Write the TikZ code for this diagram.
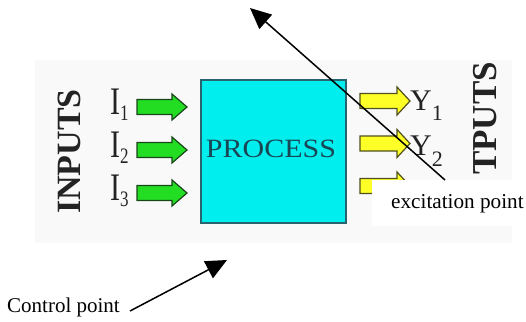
\documentclass[tikz,border=0pt]{standalone}
\usepackage{fontspec}
\setmainfont{LiberationSerif}[Extension=.ttf, UprightFont=*-Regular, BoldFont=*-Bold, ItalicFont=*-Italic, BoldItalicFont=*-BoldItalic]
\usetikzlibrary{arrows.meta}
\definecolor{cyanfill}{RGB}{0,238,238}
\definecolor{boxedge}{RGB}{40,100,110}
\definecolor{proctext}{RGB}{25,70,85}
\definecolor{greenfill}{RGB}{34,221,34}
\definecolor{greenedge}{RGB}{25,70,25}
\definecolor{yellowfill}{RGB}{255,255,40}
\definecolor{yellowedge}{RGB}{80,80,30}
\definecolor{photobg}{RGB}{249,249,249}
\definecolor{inktext}{RGB}{35,35,35}
\begin{document}
\begin{tikzpicture}[x=1pt,y=-1pt,
  greenarrow/.pic={\draw[line width=1.2pt,draw=greenedge,fill=greenfill]
     (0,-7.5)--(35,-7.5)--(35,-13)--(50,0)--(35,13)--(35,7.5)--(0,7.5)--cycle;},
  yellowarrow/.pic={\draw[line width=1.2pt,draw=yellowedge,fill=yellowfill]
     (0,-7.5)--(37,-7.5)--(37,-14)--(50,0)--(37,14)--(37,7.5)--(0,7.5)--cycle;},
  bigword/.style={font=\fontsize{34}{34}\selectfont\bfseries, text=inktext, rotate=90, inner sep=0},
  ilabel/.style={anchor=base west, inner sep=0, yscale=1.3, font=\fontsize{30}{30}\selectfont, text=inktext},
  ylabel/.style={anchor=base west, inner sep=0, font=\fontsize{30}{30}\selectfont, text=inktext},
  caption/.style={anchor=base west, inner sep=0, font=\fontsize{21}{21}\selectfont, text=black},
  pointer/.style={line width=1.5pt, -{Triangle[length=21pt,width=19pt]}}]
\useasboundingbox (0,0) rectangle (526,321);
\fill[white] (0,0) rectangle (526,321);
\fill[photobg] (35,60) rectangle (512,243);

% inputs
\node[bigword] (inputs) at (69.5,151.5) {INPUTS};
\node[ilabel] (i1) at (110,114) {I\raisebox{-5pt}{\fontsize{17}{17}\selectfont 1}};
\node[ilabel] (i2) at (110,157) {I\raisebox{-5pt}{\fontsize{17}{17}\selectfont 2}};
\node[ilabel] (i3) at (110,200) {I\raisebox{-5pt}{\fontsize{17}{17}\selectfont 3}};
\pic (g1) at (137,107) {greenarrow};
\pic (g2) at (137,150) {greenarrow};
\pic (g3) at (137,193) {greenarrow};

% process
\node[draw=boxedge, line width=1.8pt, fill=cyanfill, minimum width=145pt, minimum height=143pt, inner sep=0] (box) at (273.5,151.5) {};
\node[font=\fontsize{30}{30}\selectfont, text=proctext, yscale=0.88, inner sep=0] (proc) at (271,149) {PROCESS};

% outputs
\pic (y1a) at (360,101) {yellowarrow};
\pic (y2a) at (360,143.5) {yellowarrow};
\pic (y3a) at (360,186) {yellowarrow};
\node[ylabel] (y1) at (410,110) {Y\raisebox{-10pt}{\fontsize{22}{22}\selectfont 1}};
\node[ylabel] (y2) at (410,155) {Y\raisebox{-11pt}{\fontsize{22}{22}\selectfont 2}};
\node[bigword, font=\fontsize{35}{35}\selectfont\bfseries] (outputs) at (485,118.5) {TPUTS};

% excitation label box
\node[fill=white, inner sep=0, minimum width=154pt, minimum height=46pt] (excbox) at (449,203) {};
\node[caption, font=\fontsize{21.2}{21.2}\selectfont] (exc) at (391,208) {excitation point};
\coordinate (excstart) at (445,180);
\coordinate (exctip) at (250,8);
\draw[pointer] (excstart) -- (exctip);

% control point
\node[caption] (ctrl) at (7,312) {Control point};
\coordinate (ctrlstart) at (130,311);
\coordinate (ctrltip) at (227,260);
\draw[pointer] (ctrlstart) -- (ctrltip);
\end{tikzpicture}
\end{document}
